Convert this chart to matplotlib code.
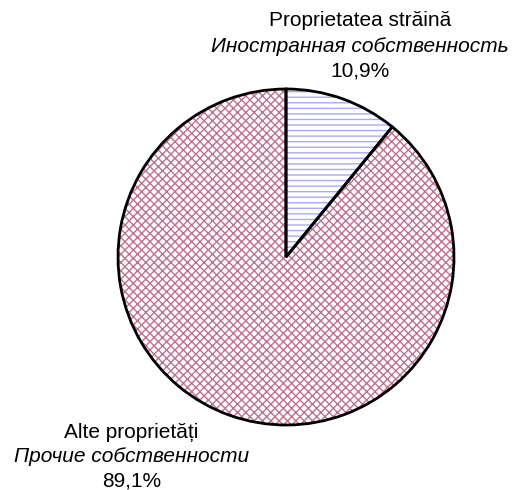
import matplotlib.pyplot as plt
import matplotlib as mpl

# data
shares = [10.9, 89.1]
labels_ro = ['Proprietatea străină', 'Alte proprietăți']
labels_ru = ['Иностранная собственность', 'Прочие собственности']
pct_txt = ['10,9%', '89,1%']

plt.rcParams['font.family'] = ['Liberation Sans', 'DejaVu Sans']
mpl.rcParams['hatch.linewidth'] = 1.0

fig = plt.figure(figsize=(5.15, 4.9), dpi=100)
# pie centre ~ (286,257) px, radius ~168 px
ax = fig.add_axes([118 / 515, 65 / 490, 336 / 515, 336 / 490])

hatch_cols = ['#a8a8ff', '#c07090']
hatches = ['---', 'xxxx']

# hatched fill first, then black outline on top
wedges, _ = ax.pie(shares, startangle=90, counterclock=False, radius=1,
                   wedgeprops=dict(facecolor='white', linewidth=0))
for w, hc, h in zip(wedges, hatch_cols, hatches):
    w.set_hatch(h)
    w.set_edgecolor(hc)
ax.pie(shares, startangle=90, counterclock=False, radius=1,
       wedgeprops=dict(facecolor='none', edgecolor='black', linewidth=2))

# pie() resets the limits, so fix them afterwards
ax.set_xlim(-1, 1)
ax.set_ylim(-1, 1)
ax.set_aspect('equal')
ax.axis('off')

fs = 15
# top label (foreign property)
ax.text(0.44, 1.41, labels_ro[0], ha='center', va='center', fontsize=fs, clip_on=False)
ax.text(0.44, 1.255, labels_ru[0], ha='center', va='center', fontsize=fs, style='italic', clip_on=False)
ax.text(0.44, 1.105, pct_txt[0], ha='center', va='center', fontsize=fs, clip_on=False)
# bottom label (other property)
ax.text(-0.92, -1.045, labels_ro[1], ha='center', va='center', fontsize=fs, clip_on=False)
ax.text(-0.92, -1.19, labels_ru[1], ha='center', va='center', fontsize=fs, style='italic', clip_on=False)
ax.text(-0.92, -1.335, pct_txt[1], ha='center', va='center', fontsize=fs, clip_on=False)

fig.savefig('out.png', dpi=100)
